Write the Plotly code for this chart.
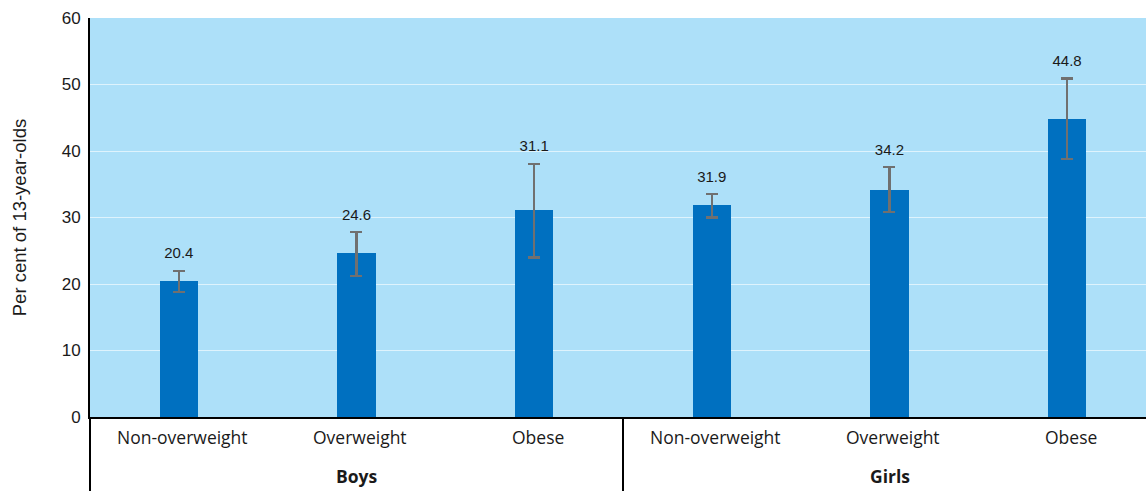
import plotly.graph_objects as go

groups = ["Boys", "Boys", "Boys", "Girls", "Girls", "Girls"]
categories = ["Non-overweight", "Overweight", "Obese", "Non-overweight", "Overweight", "Obese"]
values = [20.4, 24.6, 31.1, 31.9, 34.2, 44.8]
ci_upper = [22.0, 27.8, 38.1, 33.5, 37.6, 50.9]
ci_lower = [18.8, 21.2, 24.0, 30.0, 30.8, 38.8]
y_ticks = [0, 10, 20, 30, 40, 50, 60]

x = [groups, categories]

err_plus = [u - v for u, v in zip(ci_upper, values)]
err_minus = [v - l for v, l in zip(values, ci_lower)]

BAR = "#0070c0"
BG = "#ade0f9"
ERR = "#707070"
TXT = "#1a1a1a"
CAT_FONT = dict(family="Open Sans, sans-serif", size=17.5, color=TXT)
X_RANGE = [-0.5, 5.444]  # chart is cropped slightly on the right

fig = go.Figure()
fig.add_trace(go.Bar(
    x=x, y=values, width=0.215,
    marker=dict(color=BAR, line=dict(width=0)),
    error_y=dict(type="data", symmetric=False, array=err_plus, arrayminus=err_minus,
                 color=ERR, thickness=2.2, width=6),
    hoverinfo="skip", showlegend=False,
))
fig.add_trace(go.Scatter(
    x=x, y=ci_upper, mode="markers+text",
    marker=dict(size=12, color="rgba(0,0,0,0)"),
    text=["%.1f" % v for v in values], textposition="top center",
    textfont=dict(family="Liberation Sans, Arial, sans-serif", size=15, color=TXT),
    hoverinfo="skip", showlegend=False, cliponaxis=False,
))

# axis labels placed on the category scale (index positions)
annotations = [
    dict(text=c, xref="x", yref="paper", x=i, y=-0.05, xanchor="center", yanchor="middle",
         xshift=4, showarrow=False, font=CAT_FONT)
    for i, c in enumerate(categories)
]
group_names = list(dict.fromkeys(groups))
boundaries = [-0.5]
for g in group_names:
    idx = [i for i, gg in enumerate(groups) if gg == g]
    annotations.append(dict(
        text="<b>%s</b>" % g, xref="x", yref="paper", x=sum(idx) / len(idx), y=-0.148,
        xanchor="center", yanchor="middle", xshift=1, showarrow=False, font=CAT_FONT))
    boundaries.append(max(idx) + 0.5)

span = X_RANGE[1] - X_RANGE[0]
shapes = [
    dict(type="line", xref="paper", yref="paper",
         x0=(b - X_RANGE[0]) / span, x1=(b - X_RANGE[0]) / span,
         y0=0, y1=-0.25, line=dict(color="black", width=2))
    for b in boundaries if b < X_RANGE[1]
]

fig.update_layout(
    width=1146, height=491,
    margin=dict(l=90, r=0, t=18, b=74),
    plot_bgcolor=BG, paper_bgcolor="white",
    bargap=0,
    xaxis=dict(
        type="multicategory", range=X_RANGE,
        showline=True, linecolor="black", linewidth=2,
        showgrid=False, ticks="", showdividers=False, showticklabels=False,
    ),
    yaxis=dict(
        range=[0, 60], tickvals=y_ticks, ticktext=[str(t) for t in y_ticks],
        showline=True, linecolor="black", linewidth=2,
        showgrid=True, gridcolor="rgba(255,255,255,0.6)", gridwidth=1,
        zeroline=False, ticks="", ticklabelstandoff=4,
        tickfont=dict(family="Liberation Sans, Arial, sans-serif", size=17, color=TXT),
        title=dict(text="Per cent of 13-year-olds", standoff=30,
                   font=dict(family="Liberation Sans, Arial, sans-serif", size=18.5, color=TXT)),
    ),
    annotations=annotations,
    shapes=shapes,
)

fig.write_html(
    "out.html",
    config={"displayModeBar": False},
    post_script="document.body.style.margin='0';document.body.style.overflow='hidden';"
                "window.dispatchEvent(new Event('resize'));",
)
